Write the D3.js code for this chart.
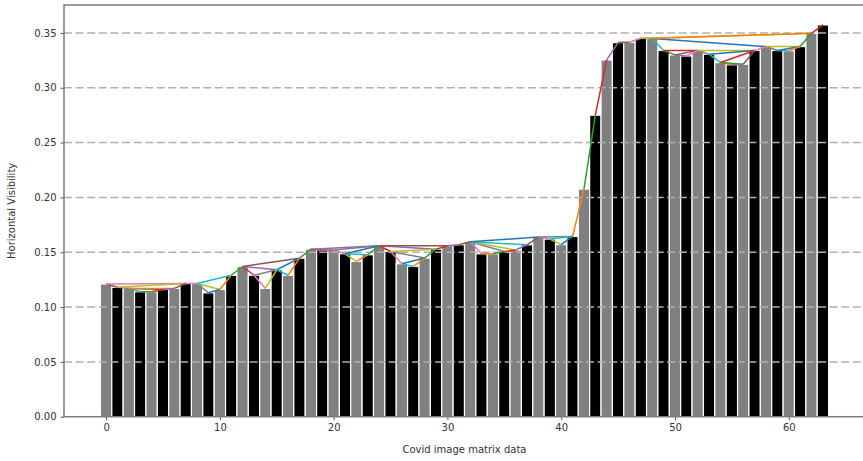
<!DOCTYPE html>
<html>
<head>
<meta charset="utf-8">
<script src="https://cdn.jsdelivr.net/npm/d3@7"></script>
<style>
  body { margin: 0; background: #fff; }
  text { font-family: "DejaVu Sans", sans-serif; }
</style>
</head>
<body>
<svg id="chart" width="863" height="461"></svg>
<script>
// bar heights, index 0..63
var heights = [
    0.121, 0.118, 0.117, 0.114, 0.114, 0.116, 0.117, 0.1215, 0.1215, 0.113,
    0.116, 0.129, 0.137, 0.129, 0.117, 0.134, 0.129, 0.1446, 0.1528, 0.152,
    0.152, 0.1486, 0.1416, 0.1477, 0.1559, 0.1507, 0.1395, 0.137, 0.1447, 0.1528,
    0.156, 0.1568, 0.1595, 0.1486, 0.1486, 0.1507, 0.152, 0.1568, 0.1638, 0.162,
    0.157, 0.1644, 0.2076, 0.275, 0.3254, 0.3412, 0.3415, 0.3452, 0.345, 0.334,
    0.330, 0.329, 0.334, 0.3306, 0.323, 0.321, 0.3215, 0.334, 0.3376, 0.334,
    0.3338, 0.3376, 0.3497, 0.3573
];
var yTicks = [0, 0.05, 0.1, 0.15, 0.2, 0.25, 0.3, 0.35];
var xTicks = [0, 10, 20, 30, 40, 50, 60];
var palette = ["#1f77b4", "#ff7f0e", "#2ca02c", "#d62728", "#9467bd",
               "#8c564b", "#e377c2", "#7f7f7f", "#bcbd22", "#17becf"];
var colorOffset = 5; // where the colour cycle stood at the first edge

var svg = d3.select("#chart");

var x = d3.scaleLinear().domain([-3.7, 66.7]).range([64, 865]);
var y = d3.scaleLinear().domain([0, 0.3755]).range([416.7, 5]);

// horizontal visibility edges: i sees j when every bar between is lower than both
var edges = [];
heights.forEach(function (hi, i) {
    for (var j = i + 1; j < heights.length; j++) {
        var lo = Math.min(hi, heights[j]);
        var blocked = false;
        for (var k = i + 1; k < j; k++) {
            if (heights[k] >= lo) { blocked = true; break; }
        }
        if (!blocked) edges.push([i, j]);
        if (heights[j] >= hi) break;
    }
});

var bw = x(1) - x(0);

svg.append("g")
    .selectAll("rect")
    .data(heights)
    .enter()
    .append("rect")
    .attr("x", function (d, i) { return x(i) - bw / 2; })
    .attr("y", function (d) { return y(d); })
    .attr("width", bw)
    .attr("height", function (d) { return y(0) - y(d); })
    .style("fill", function (d, i) { return i % 2 ? "#000" : "#808080"; })
    .style("stroke", "white")
    .style("stroke-width", 1.2);

// dashed grid sits over the bars, under the edges
svg.append("g")
    .selectAll("line")
    .data(yTicks.slice(1))
    .enter()
    .append("line")
    .attr("x1", 64).attr("x2", 865)
    .attr("y1", function (d) { return y(d); })
    .attr("y2", function (d) { return y(d); })
    .style("stroke", "#b0b0b0")
    .style("stroke-width", 1.5)
    .style("stroke-dasharray", "8,3.6");

svg.append("g")
    .selectAll("line")
    .data(edges)
    .enter()
    .append("line")
    .attr("x1", function (d) { return x(d[0]); })
    .attr("y1", function (d) { return y(heights[d[0]]); })
    .attr("x2", function (d) { return x(d[1]); })
    .attr("y2", function (d) { return y(heights[d[1]]); })
    .style("stroke", function (d, i) { return palette[(i + colorOffset) % 10]; })
    .style("stroke-width", 1.5);

var xAxis = svg.append("g")
    .attr("transform", "translate(0," + y(0) + ")")
    .call(d3.axisBottom(x).tickValues(xTicks).tickSize(3.5).tickPadding(4).tickFormat(d3.format("d")));
var yAxis = svg.append("g")
    .attr("transform", "translate(" + x(-3.7) + ",0)")
    .call(d3.axisLeft(y).tickValues(yTicks).tickSize(3.5).tickPadding(4).tickFormat(d3.format(".2f")));

[xAxis, yAxis].forEach(function (ax) {
    ax.select(".domain").remove();
    ax.selectAll("line").style("stroke", "#555").style("stroke-width", 1);
    ax.selectAll("text").style("font-size", "10px").style("fill", "#333")
        .style("font-family", "DejaVu Sans, sans-serif");
});

// frame
svg.append("rect")
    .attr("x", 64).attr("y", 5)
    .attr("width", 865 - 64).attr("height", y(0) - 5)
    .style("fill", "none")
    .style("stroke", "#7a7a7a")
    .style("stroke-width", 1.5);

svg.append("text")
    .attr("x", (64 + 865) / 2)
    .attr("y", 453)
    .attr("text-anchor", "middle")
    .style("font-size", "10px")
    .style("fill", "#333")
    .text("Covid image matrix data");

svg.append("text")
    .attr("transform", "translate(15," + (y(0) + 5) / 2 + ") rotate(-90)")
    .attr("text-anchor", "middle")
    .style("font-size", "10px")
    .style("fill", "#333")
    .text("Horizontal Visibility");
</script>
</body>
</html>
